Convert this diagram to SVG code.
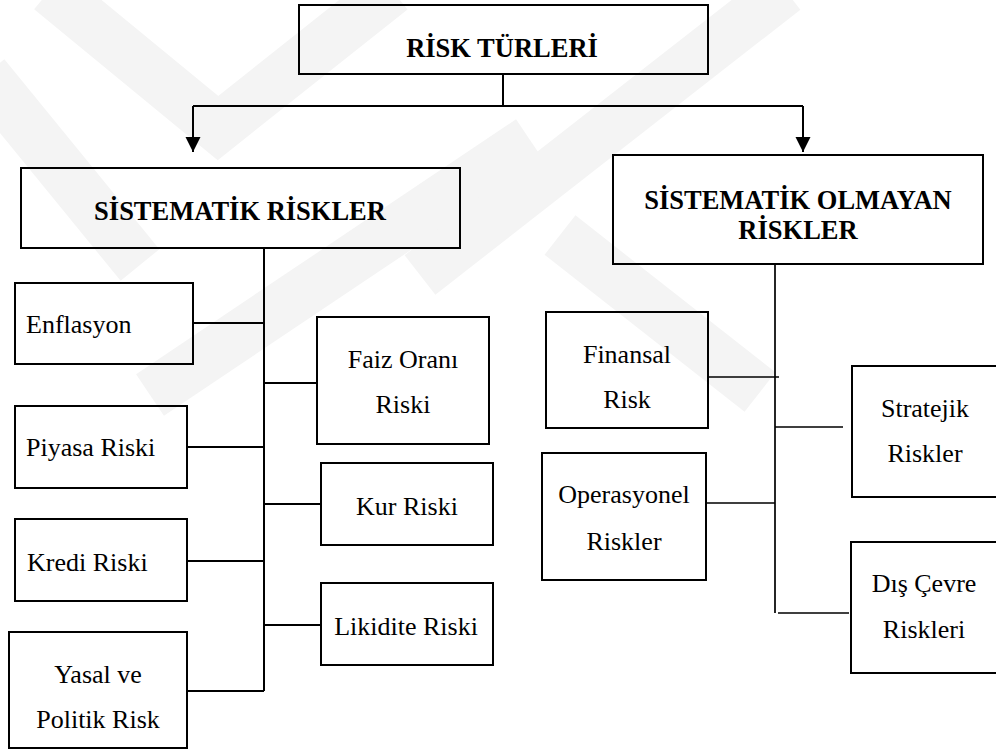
<svg xmlns="http://www.w3.org/2000/svg" width="996" height="752" viewBox="0 0 996 752">
  <style>
    .box { fill: none; stroke: #000; stroke-width: 2; }
    .ln { fill: none; stroke: #000; stroke-width: 2; }
    .lnr { fill: none; stroke: #000; stroke-width: 1.7; }
    .wm { fill: none; stroke: #f4f4f4; stroke-width: 50; stroke-linejoin: miter; }
    .h { font-family: "Liberation Serif", "Times New Roman", "DejaVu Serif", serif; font-weight: bold; font-size: 26.5px; fill: #000; }
    .t { font-family: "Liberation Serif", "Times New Roman", "DejaVu Serif", serif; font-size: 26px; fill: #000; }
    .m { text-anchor: middle; }
  </style>
  <defs>
    <marker id="arr" markerUnits="userSpaceOnUse" markerWidth="15" markerHeight="16" refX="15" refY="7.5" orient="auto">
      <path d="M0,0 L15,7.5 L0,15 z" fill="#000"/>
    </marker>
  </defs>
  <rect width="996" height="752" fill="#fff"/>
  <g id="watermark">
    <polyline class="wm" points="50,-10 218,128 392,-10"/>
    <line class="wm" x1="-15" y1="75" x2="140" y2="265"/>
    <line class="wm" x1="150" y1="395" x2="530" y2="140"/>
    <line class="wm" x1="785" y1="-10" x2="420" y2="275"/>
    <line class="wm" x1="560" y1="235" x2="760" y2="392"/>
  </g>
  <g id="connectors">
    <path class="ln" d="M503,74 V106 M193,106 H803"/>
    <line class="ln" x1="193" y1="106" x2="193" y2="152" marker-end="url(#arr)"/>
    <line class="ln" x1="803" y1="106" x2="803" y2="152" marker-end="url(#arr)"/>
    <path class="ln" d="M264,248 V691 M193,323 H264 M187,447 H264 M187,561 H264 M187,691 H264 M264,383 H317 M264,504 H321 M264,625 H321"/>
    <path class="lnr" d="M775,264 V613 M708,377 H779 M775,427 H843 M706,503 H775 M778,613 H849"/>
  </g>
  <g id="risk-turleri">
    <rect class="box" x="299" y="5" width="409" height="69"/>
    <text class="h m" x="502" y="57">RİSK TÜRLERİ</text>
  </g>
  <g id="sistematik">
    <rect class="box" x="21" y="168" width="439" height="80"/>
    <text class="h m" x="240" y="220">SİSTEMATİK RİSKLER</text>
  </g>
  <g id="sistematik-olmayan">
    <rect class="box" x="613" y="155" width="370" height="109"/>
    <text class="h m" x="798" y="209">SİSTEMATİK OLMAYAN</text>
    <text class="h m" x="798" y="239">RİSKLER</text>
  </g>
  <g id="enflasyon">
    <rect class="box" x="15" y="283" width="178" height="81"/>
    <text class="t" x="26" y="333">Enflasyon</text>
  </g>
  <g id="piyasa">
    <rect class="box" x="15" y="406" width="172" height="82"/>
    <text class="t" x="26" y="456">Piyasa Riski</text>
  </g>
  <g id="kredi">
    <rect class="box" x="15" y="519" width="172" height="82"/>
    <text class="t" x="27" y="571">Kredi Riski</text>
  </g>
  <g id="yasal">
    <rect class="box" x="9" y="632" width="178" height="116"/>
    <text class="t m" x="98" y="683">Yasal ve</text>
    <text class="t m" x="98" y="728">Politik Risk</text>
  </g>
  <g id="faiz">
    <rect class="box" x="317" y="317" width="172" height="127"/>
    <text class="t m" x="403" y="368">Faiz Oranı</text>
    <text class="t m" x="403" y="413">Riski</text>
  </g>
  <g id="kur">
    <rect class="box" x="321" y="463" width="172" height="82"/>
    <text class="t m" x="407" y="515">Kur Riski</text>
  </g>
  <g id="likidite">
    <rect class="box" x="321" y="583" width="172" height="82"/>
    <text class="t m" x="406" y="635">Likidite Riski</text>
  </g>
  <g id="finansal">
    <rect class="box" x="546" y="312" width="162" height="116"/>
    <text class="t m" x="627" y="363">Finansal</text>
    <text class="t m" x="627" y="408">Risk</text>
  </g>
  <g id="operasyonel">
    <rect class="box" x="542" y="453" width="164" height="127"/>
    <text class="t m" x="624" y="503">Operasyonel</text>
    <text class="t m" x="624" y="550">Riskler</text>
  </g>
  <g id="stratejik">
    <rect class="box" x="852" y="366" width="148" height="131"/>
    <text class="t m" x="925" y="417">Stratejik</text>
    <text class="t m" x="925" y="462">Riskler</text>
  </g>
  <g id="dis-cevre">
    <rect class="box" x="851" y="542" width="149" height="131"/>
    <text class="t m" x="924" y="592">Dış Çevre</text>
    <text class="t m" x="924" y="638">Riskleri</text>
  </g>
</svg>
